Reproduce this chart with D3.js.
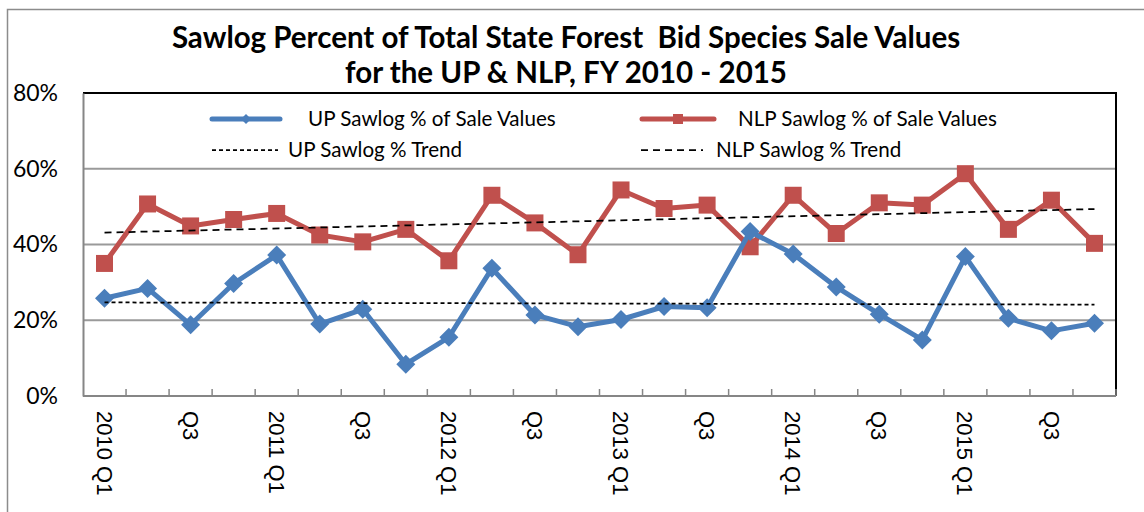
<!DOCTYPE html>
<html>
<head>
<meta charset="utf-8">
<script src="https://cdn.jsdelivr.net/npm/d3@7"></script>
<style>
  body { margin: 0; background: #fff; }
  svg { display: block; }
</style>
</head>
<body>
<script>
// quarters of FY 2010 - 2015
var quarters = ["2010 Q1", "2010 Q2", "2010 Q3", "2010 Q4",
                "2011 Q1", "2011 Q2", "2011 Q3", "2011 Q4",
                "2012 Q1", "2012 Q2", "2012 Q3", "2012 Q4",
                "2013 Q1", "2013 Q2", "2013 Q3", "2013 Q4",
                "2014 Q1", "2014 Q2", "2014 Q3", "2014 Q4",
                "2015 Q1", "2015 Q2", "2015 Q3", "2015 Q4"];
// label printed under each quarter ("" = no label)
var tickLabels = ["2010 Q1", "", "Q3", "", "2011 Q1", "", "Q3", "", "2012 Q1", "", "Q3", "",
                  "2013 Q1", "", "Q3", "", "2014 Q1", "", "Q3", "", "2015 Q1", "", "Q3", ""];
var upValues  = [25.8, 28.4, 18.8, 29.7, 37.2, 19.0, 22.9, 8.4, 15.5, 33.7, 21.4, 18.3,
                 20.2, 23.6, 23.3, 43.4, 37.5, 28.8, 21.6, 14.8, 36.8, 20.5, 17.2, 19.2];
var nlpValues = [35.0, 50.7, 44.9, 46.6, 48.2, 42.5, 40.7, 44.0, 35.7, 53.0, 45.7, 37.3,
                 54.4, 49.5, 50.4, 39.4, 53.0, 42.9, 51.0, 50.4, 58.7, 44.0, 51.7, 40.3];
var yTicks = [0, 20, 40, 60, 80];

var width = 1144;
var height = 512;
var plot = {left: 83, right: 1116, top: 93, bottom: 396};

var blue = "#4a7ebb";
var red = "#c0504d";

var svg = d3.select("body")
    .append("svg")
    .attr("width", width)
    .attr("height", height);

// outer chart frame
svg.append("rect")
    .attr("x", 7.5).attr("y", 9.5)
    .attr("width", 1160).attr("height", 520)
    .attr("fill", "none")
    .attr("stroke", "#8c8c8c")
    .attr("stroke-width", 1.5);

var x = d3.scaleBand()
    .domain(quarters)
    .range([plot.left, plot.right])
    .padding(0);
var cx = function(i) { return x(quarters[i]) + x.bandwidth() / 2; };

var y = d3.scaleLinear()
    .domain([0, 80])
    .range([plot.bottom, plot.top]);

// title
var title = svg.append("text")
    .attr("x", 566)
    .attr("text-anchor", "middle")
    .style("font-family", "Lato, 'Open Sans', sans-serif")
    .style("font-weight", "bold")
    .style("font-size", "29.5px")
    .attr("fill", "#000");
title.append("tspan").attr("x", 566).attr("y", 48)
    .text("Sawlog Percent of Total State Forest\u00a0 Bid Species Sale Values");
title.append("tspan").attr("x", 566).attr("y", 83)
    .text("for the UP & NLP, FY 2010 - 2015");

// gridlines
svg.append("g")
    .selectAll("line")
    .data(yTicks.slice(1, -1))
    .enter()
    .append("line")
    .attr("x1", plot.left).attr("x2", plot.right)
    .attr("y1", function(d) { return y(d); })
    .attr("y2", function(d) { return y(d); })
    .attr("stroke", "#9a9a9a")
    .attr("stroke-width", 2);

// plot border: top and right black
svg.append("path")
    .attr("d", "M" + plot.left + "," + plot.top + "H" + plot.right + "V" + plot.bottom)
    .attr("fill", "none")
    .attr("stroke", "#000")
    .attr("stroke-width", 2);

// y axis
var yAxis = svg.append("g")
    .attr("transform", "translate(" + plot.left + ",0)")
    .call(d3.axisLeft(y).tickValues(yTicks).tickSize(0).tickPadding(25)
            .tickFormat(function(d) { return d + "%"; }));
yAxis.select(".domain").attr("stroke", "#868686").attr("stroke-width", 2);
yAxis.selectAll("text")
    .style("font-family", "Lato, 'Open Sans', sans-serif")
    .style("font-size", "23px")
    .attr("fill", "#000");

// x axis line and tick marks at category boundaries
var xAxis = svg.append("g");
xAxis.append("line")
    .attr("x1", plot.left).attr("x2", plot.right)
    .attr("y1", plot.bottom).attr("y2", plot.bottom)
    .attr("stroke", "#868686")
    .attr("stroke-width", 2);
xAxis.selectAll(".tick")
    .data(quarters.slice(1).concat(["end"]))
    .enter()
    .append("line")
    .attr("x1", function(d) { return d == "end" ? plot.right : x(d); })
    .attr("x2", function(d) { return d == "end" ? plot.right : x(d); })
    .attr("y1", plot.bottom)
    .attr("y2", plot.bottom - 7)
    .attr("stroke", "#868686")
    .attr("stroke-width", 1.5);
xAxis.selectAll(".lab")
    .data(tickLabels)
    .enter()
    .append("text")
    .attr("transform", function(d, i) { return "translate(" + cx(i) + "," + (plot.bottom + 15) + ") rotate(90)"; })
    .attr("dy", "0.36em")
    .style("font-family", "'Liberation Sans', Arial, sans-serif")
    .style("font-size", "22px")
    .attr("fill", "#000")
    .text(function(d) { return d; });

// trend lines (least squares fit of each series)
function trend(values) {
    var n = values.length;
    var mx = (n - 1) / 2;
    var my = d3.mean(values);
    var sxy = d3.sum(values, function(v, i) { return (i - mx) * (v - my); });
    var sxx = d3.sum(values, function(v, i) { return (i - mx) * (i - mx); });
    var b = sxy / sxx;
    return [[0, my - b * mx], [n - 1, my + b * (n - 1 - mx)]];
}
var trendLine = d3.line()
    .x(function(d) { return cx(d[0]); })
    .y(function(d) { return y(d[1]); });

var line = d3.line()
    .x(function(d, i) { return cx(i); })
    .y(function(d) { return y(d); });

var diamond = "M0,-9.5L9.5,0L0,9.5L-9.5,0Z";
var square = "M-8.5,-8.5H8.5V8.5H-8.5Z";

// NLP series
svg.append("path")
    .datum(nlpValues)
    .attr("d", line)
    .attr("fill", "none")
    .attr("stroke", red)
    .attr("stroke-width", 5)
    .attr("stroke-linejoin", "round");
svg.append("g").selectAll("path")
    .data(nlpValues)
    .enter()
    .append("path")
    .attr("d", square)
    .attr("transform", function(d, i) { return "translate(" + cx(i) + "," + y(d) + ")"; })
    .attr("fill", red);

// UP series
svg.append("path")
    .datum(upValues)
    .attr("d", line)
    .attr("fill", "none")
    .attr("stroke", blue)
    .attr("stroke-width", 5)
    .attr("stroke-linejoin", "round");
svg.append("g").selectAll("path")
    .data(upValues)
    .enter()
    .append("path")
    .attr("d", diamond)
    .attr("transform", function(d, i) { return "translate(" + cx(i) + "," + y(d) + ")"; })
    .attr("fill", blue);

svg.append("path")
    .datum(trend(upValues))
    .attr("d", trendLine)
    .attr("fill", "none")
    .attr("stroke", "#000")
    .attr("stroke-width", 1.75)
    .attr("stroke-dasharray", "4,3");
svg.append("path")
    .datum(trend(nlpValues))
    .attr("d", trendLine)
    .attr("fill", "none")
    .attr("stroke", "#000")
    .attr("stroke-width", 1.75)
    .attr("stroke-dasharray", "7,5");

// legend
var legendFont = "Lato, 'Open Sans', sans-serif";
var leg = svg.append("g")
    .style("font-family", legendFont)
    .style("font-size", "20.6px");

leg.append("line").attr("x1", 212).attr("x2", 280).attr("y1", 119).attr("y2", 119)
    .attr("stroke", blue).attr("stroke-width", 5).attr("stroke-linecap", "round");
leg.append("path").attr("d", "M0,-5L5,0L0,5L-5,0Z").attr("transform", "translate(246,119)").attr("fill", blue);
leg.append("text").attr("x", 308).attr("y", 119).attr("dy", "0.35em").text("UP Sawlog % of Sale Values");

leg.append("line").attr("x1", 642).attr("x2", 714).attr("y1", 119).attr("y2", 119)
    .attr("stroke", red).attr("stroke-width", 5).attr("stroke-linecap", "round");
leg.append("path").attr("d", "M-5,-5H5V5H-5Z").attr("transform", "translate(678,119)").attr("fill", red);
leg.append("text").attr("x", 738).attr("y", 119).attr("dy", "0.35em").text("NLP Sawlog % of Sale Values");

leg.append("line").attr("x1", 212).attr("x2", 278).attr("y1", 150).attr("y2", 150)
    .attr("stroke", "#000").attr("stroke-width", 1.75).attr("stroke-dasharray", "4,3");
leg.append("text").attr("x", 288).attr("y", 150).attr("dy", "0.35em").text("UP Sawlog % Trend");

leg.append("line").attr("x1", 641).attr("x2", 703).attr("y1", 150).attr("y2", 150)
    .attr("stroke", "#000").attr("stroke-width", 1.75).attr("stroke-dasharray", "7,5");
leg.append("text").attr("x", 716).attr("y", 150).attr("dy", "0.35em").text("NLP Sawlog % Trend");
</script>
</body>
</html>
